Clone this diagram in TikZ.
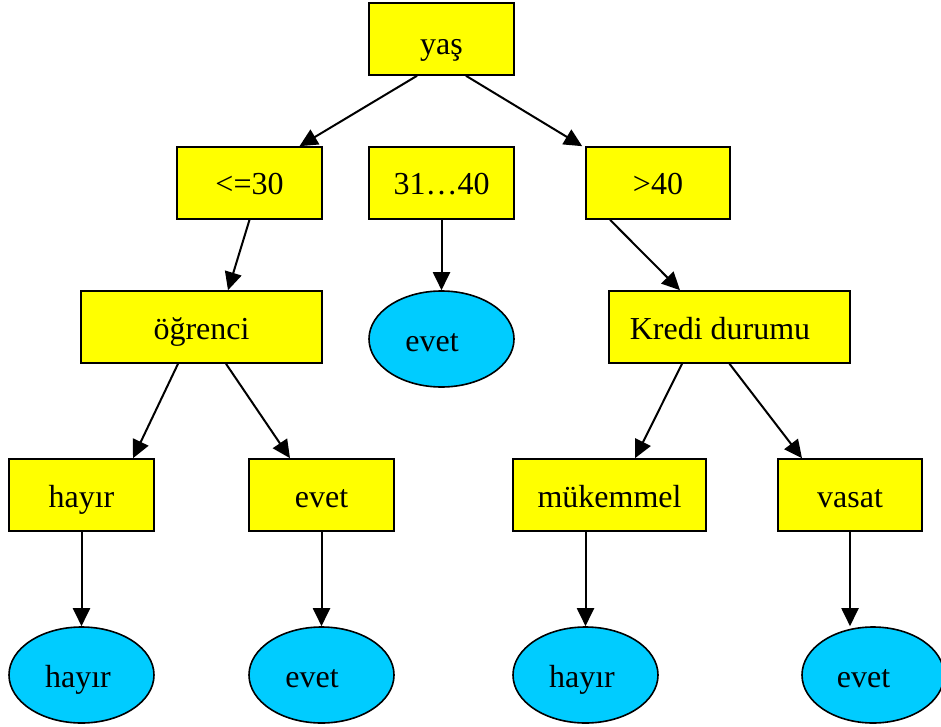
\documentclass[tikz,border=0pt]{standalone}
\usepackage{fontspec}
\setmainfont{Liberation Serif}
\usetikzlibrary{arrows.meta, calc, shapes.geometric}
\definecolor{nodeyellow}{RGB}{255, 255, 0}
\definecolor{leafcyan}{RGB}{0, 204, 255}

\begin{document}
\begin{tikzpicture}[x=1pt, y=-1pt,
    testbox/.style={draw, fill=nodeyellow, line width=1.6pt, inner sep=0pt,
      minimum width=145pt, minimum height=72pt,
      text height=26pt, text depth=2pt, font=\fontsize{32}{38}\selectfont},
    leafnode/.style={testbox, ellipse, fill=leafcyan, minimum height=96pt},
    branch/.style={-{Triangle[length=18pt, width=17pt]}, line width=2pt}]
  \useasboundingbox (0,0) rectangle (941,727);

  % Root
  \node[testbox, text height=34pt] (yas) at (441.5,39) {yaş};

  % Age ranges
  \node[testbox] (le30) at (249.5,183) {<=30};
  \node[testbox] (mid) at (441.5,183) {31…40};
  \node[testbox, minimum width=144pt] (gt40) at (658,183) {>40};

  % Second level
  \node[testbox, minimum width=241pt] (ogr) at (201.5,327) {öğrenci};
  \node[leafnode] (evetA) at (441.5,339) {evet\kern19pt};
  \node[testbox, minimum width=241pt] (kredi) at (729.5,327) {Kredi durumu\kern19pt};

  % Third level
  \node[testbox] (hayirB) at (81.5,495) {hayır};
  \node[testbox] (evetB) at (321.5,495) {evet};
  \node[testbox, minimum width=193pt] (mukem) at (609.5,495) {mükemmel};
  \node[testbox, minimum width=144pt] (vasat) at (850,495) {vasat};

  % Leaves
  \node[leafnode] (hayirL) at (81.5,675) {hayır\kern7pt};
  \node[leafnode] (evetL) at (321.5,675) {evet\kern19pt};
  \node[leafnode] (hayirR) at (585.5,675) {hayır\kern7pt};
  \node[leafnode, minimum width=142pt] (evetR) at (873,675) {evet\kern19pt};

  % Edges
  \draw[branch] ($(yas.south)+(-24.5,0)$) -- ($(le30.north)+(50,0)$);
  \draw[branch] ($(yas.south)+(24.5,0)$) -- ($(gt40.north west)+(-3,0)$);
  \draw[branch] (le30.south) -- ($(ogr.north)+(26.5,0)$);
  \draw[branch] (mid.south) -- (evetA.north);
  \draw[branch] ($(gt40.south)+(-48,0)$) -- ($(kredi.north)+(-49.5,0)$);
  \draw[branch] ($(ogr.south)+(-23.5,0)$) -- ($(hayirB.north)+(51.5,0)$);
  \draw[branch] ($(ogr.south)+(24.5,0)$) -- ($(evetB.north)+(-31.5,0)$);
  \draw[branch] ($(kredi.south)+(-47.5,0)$) -- ($(mukem.north)+(25.5,0)$);
  \draw[branch] (kredi.south) -- ($(vasat.north)+(-48,0)$);
  \draw[branch] (hayirB.south) -- (hayirL.north);
  \draw[branch] (evetB.south) -- (evetL.north);
  \draw[branch] ($(mukem.south)+(-24,0)$) -- (hayirR.north);
  \draw[branch] (vasat.south) -- (vasat.south |- evetR.north);
\end{tikzpicture}
\end{document}
